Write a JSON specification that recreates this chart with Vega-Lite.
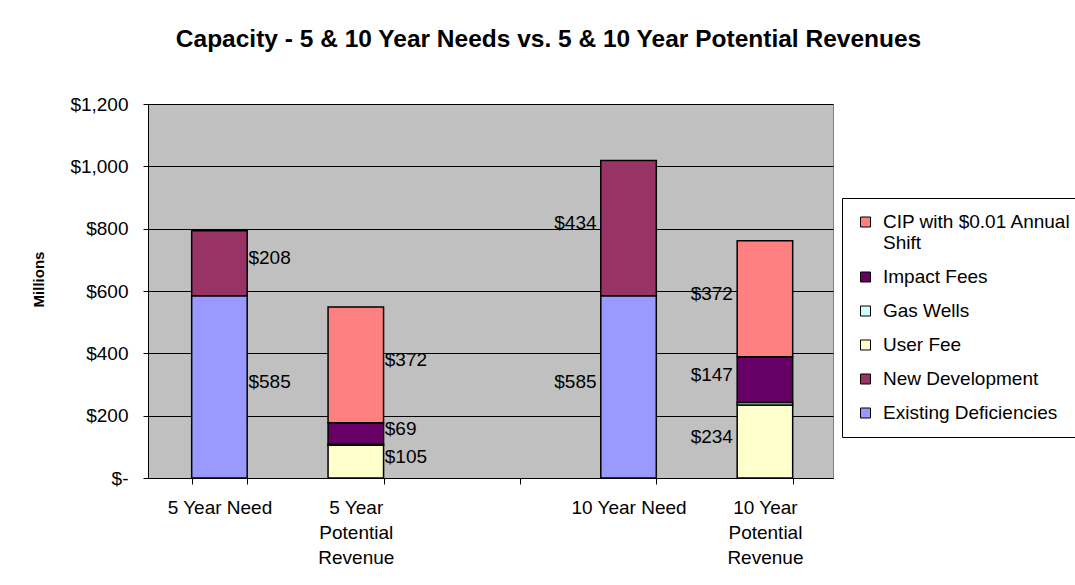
{
  "$schema": "https://vega.github.io/schema/vega-lite/v6.json",
  "width": 685,
  "height": 374,
  "autosize": {"type": "none"},
  "padding": {"left": 148, "top": 104, "right": 242, "bottom": 107},
  "background": "white",
  "config": {
    "font": "Liberation Sans",
    "view": {"fill": "#C0C0C0", "stroke": "#808080", "strokeWidth": 1}
  },
  "title": {
    "text": "Capacity - 5 & 10 Year Needs vs. 5 & 10 Year Potential Revenues",
    "font": "Liberation Sans",
    "fontSize": 24.5,
    "fontWeight": "bold",
    "color": "black",
    "anchor": "middle",
    "frame": "group",
    "dx": 58,
    "baseline": "alphabetic",
    "offset": 24
  },
  "data": {
    "values": [
      {"category": "5 Year Need", "series": "Existing Deficiencies", "value": 585},
      {"category": "5 Year Need", "series": "New Development", "value": 208},
      {"category": "5 Year Potential Revenue", "series": "User Fee", "value": 105},
      {"category": "5 Year Potential Revenue", "series": "Gas Wells", "value": 3},
      {"category": "5 Year Potential Revenue", "series": "Impact Fees", "value": 69},
      {"category": "5 Year Potential Revenue", "series": "CIP with $0.01 Annual Shift", "value": 372},
      {"category": "10 Year Need", "series": "Existing Deficiencies", "value": 585},
      {"category": "10 Year Need", "series": "New Development", "value": 434},
      {"category": "10 Year Potential Revenue", "series": "User Fee", "value": 234},
      {"category": "10 Year Potential Revenue", "series": "Gas Wells", "value": 8},
      {"category": "10 Year Potential Revenue", "series": "Impact Fees", "value": 147},
      {"category": "10 Year Potential Revenue", "series": "CIP with $0.01 Annual Shift", "value": 372}
    ]
  },
  "transform": [
    {"calculate": "indexof(['Existing Deficiencies','New Development','User Fee','Gas Wells','Impact Fees','CIP with $0.01 Annual Shift'], datum.series)", "as": "ord"},
    {"stack": "value", "groupby": ["category"], "sort": [{"field": "ord", "order": "ascending"}], "as": ["v0", "v1"]},
    {"calculate": "(datum.v0 + datum.v1) / 2", "as": "mid"}
  ],
  "encoding": {
    "x": {
      "field": "category",
      "type": "nominal",
      "scale": {
        "domain": ["5 Year Need", "5 Year Potential Revenue", " ", "10 Year Need", "10 Year Potential Revenue"],
        "paddingInner": 0.593,
        "paddingOuter": 0.308,
        "align": 0.52
      },
      "sort": null,
      "axis": {
        "title": null,
        "labelAngle": 0,
        "labelExpr": "datum.value == '5 Year Potential Revenue' ? ['5 Year', 'Potential', 'Revenue'] : datum.value == '10 Year Potential Revenue' ? ['10 Year', 'Potential', 'Revenue'] : datum.label",
        "labelFont": "Liberation Sans",
        "labelFontSize": 19,
        "labelColor": "black",
        "labelBaseline": "top",
        "labelPadding": 14,
        "labelLineHeight": 25,
        "labelLimit": 0,
        "tickBand": "extent",
        "tickSize": 6,
        "tickColor": "black",
        "domainColor": "black",
        "domainWidth": 1,
        "grid": false
      }
    },
    "y": {
      "field": "v1",
      "type": "quantitative",
      "scale": {"domain": [0, 1200], "nice": false},
      "axis": {
        "title": "Millions",
        "values": [0, 200, 400, 600, 800, 1000, 1200],
        "labelExpr": "datum.value == 0 ? '$-' : '$' + format(datum.value, ',')",
        "labelFont": "Liberation Sans",
        "labelFontSize": 19,
        "labelColor": "black",
        "labelPadding": 15,
        "tickSize": 5,
        "tickColor": "black",
        "domainColor": "black",
        "grid": true,
        "gridColor": "black",
        "gridWidth": 1,
        "gridOpacity": 1,
        "titleFont": "Liberation Sans",
        "titleFontSize": 15,
        "titleFontWeight": "bold",
        "titleColor": "black",
        "titleAngle": -90,
        "titleX": -110,
        "titleY": 175,
        "titleAlign": "center",
        "titleBaseline": "middle"
      }
    }
  },
  "layer": [
    {
      "mark": {"type": "bar", "stroke": "black", "strokeWidth": 1.5},
      "encoding": {
        "y2": {"field": "v0"},
        "color": {
          "field": "series",
          "type": "nominal",
          "scale": {
            "domain": ["CIP with $0.01 Annual Shift", "Impact Fees", "Gas Wells", "User Fee", "New Development", "Existing Deficiencies"],
            "range": ["#FF8080", "#660066", "#CCFFFF", "#FFFFCC", "#993366", "#9999FF"]
          },
          "legend": {
            "title": null,
            "orient": "none",
            "legendX": 694,
            "legendY": 94,
            "symbolType": "square",
            "symbolSize": 100,
            "symbolStrokeColor": "black",
            "symbolStrokeWidth": 1,
            "symbolOpacity": 1,
            "labelFont": "Liberation Sans",
            "labelFontSize": 19,
            "labelColor": "black",
            "labelLimit": 0,
            "labelOffset": 8,
            "labelExpr": "datum.label == 'CIP with $0.01 Annual Shift' ? ['CIP with $0.01 Annual', 'Shift'] : datum.label",
            "clipHeight": 20,
            "strokeColor": "black",
            "fillColor": "white",
            "padding": 14,
            "rowPadding": 14
          }
        }
      }
    },
    {
      "transform": [
        {"filter": "(datum.category == '5 Year Need' || datum.category == '5 Year Potential Revenue') && datum.series != 'Gas Wells'"}
      ],
      "mark": {"type": "text", "align": "left", "baseline": "middle", "dx": 29, "dy": -5, "font": "Liberation Sans", "fontSize": 19, "color": "black"},
      "encoding": {
        "y": {"field": "mid", "type": "quantitative"},
        "text": {"field": "value", "type": "quantitative", "format": "$,.0f"}
      }
    },
    {
      "transform": [
        {"filter": "(datum.category == '10 Year Need' || datum.category == '10 Year Potential Revenue') && datum.series != 'Gas Wells'"}
      ],
      "mark": {"type": "text", "align": "right", "baseline": "middle", "dx": -32, "dy": -5, "font": "Liberation Sans", "fontSize": 19, "color": "black"},
      "encoding": {
        "y": {"field": "mid", "type": "quantitative"},
        "text": {"field": "value", "type": "quantitative", "format": "$,.0f"}
      }
    }
  ]
}
